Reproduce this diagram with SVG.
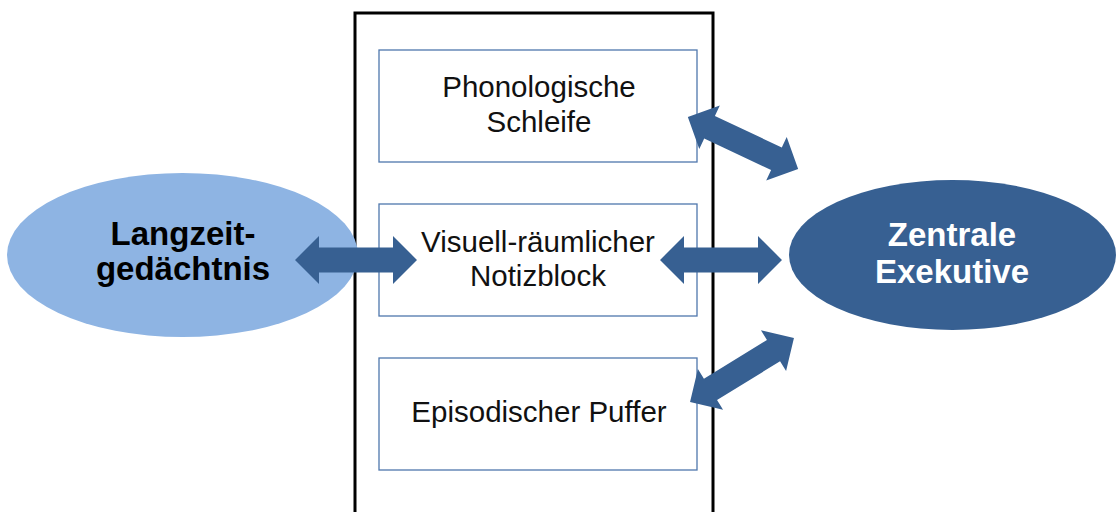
<svg xmlns="http://www.w3.org/2000/svg" width="1117" height="512" viewBox="0 0 1117 512">
  <style>
    .frame { fill: #ffffff; stroke: #000000; stroke-width: 3; }
    .box { fill: #ffffff; stroke: #4f77ad; stroke-width: 1.3; }
    .lbl { font-family: "Liberation Sans", Arial, sans-serif; font-size: 29.5px; fill: #111111; text-anchor: middle; }
    .big { font-family: "Liberation Sans", Arial, sans-serif; font-size: 33px; font-weight: bold; text-anchor: middle; }
    .arrow { fill: #376092; }
  </style>
  <defs>
    <!-- double-headed block arrow, 122 px long, centred on the origin -->
    <path id="dbl" d="M-61,0 L-37,-24 L-37,-12.5 L37,-12.5 L37,-24 L61,0 L37,24 L37,12.5 L-37,12.5 L-37,24 Z"/>
  </defs>

  <!-- working memory frame (open at the bottom edge) -->
  <rect class="frame" x="355" y="13" width="358" height="520"/>

  <g id="phonologische-schleife">
    <rect class="box" x="379" y="50" width="318" height="112"/>
    <text class="lbl" x="539" y="97">Phonologische</text>
    <text class="lbl" x="539" y="132">Schleife</text>
  </g>

  <g id="notizblock">
    <rect class="box" x="379" y="204" width="318" height="112"/>
    <text class="lbl" x="538" y="252">Visuell-räumlicher</text>
    <text class="lbl" x="538" y="286">Notizblock</text>
  </g>

  <g id="episodischer-puffer">
    <rect class="box" x="379" y="358" width="318" height="112"/>
    <text class="lbl" x="539" y="422">Episodischer Puffer</text>
  </g>

  <g id="langzeitgedaechtnis">
    <ellipse cx="182.5" cy="255" rx="175.5" ry="82" fill="#8eb4e3"/>
    <text class="big" x="183" y="245" fill="#000000">Langzeit-</text>
    <text class="big" x="183" y="280" fill="#000000">gedächtnis</text>
  </g>

  <g id="zentrale-exekutive">
    <ellipse cx="952.5" cy="255" rx="163.5" ry="75" fill="#376092"/>
    <text class="big" x="952" y="246" fill="#ffffff">Zentrale</text>
    <text class="big" x="952" y="283" fill="#ffffff">Exekutive</text>
  </g>

  <g id="connectors" class="arrow">
    <use href="#dbl" transform="translate(356,260)"/>
    <use href="#dbl" transform="translate(721,260)"/>
    <use href="#dbl" transform="translate(743,143) rotate(25.3)"/>
    <use href="#dbl" transform="translate(742,370) rotate(-31.6)"/>
  </g>
</svg>
